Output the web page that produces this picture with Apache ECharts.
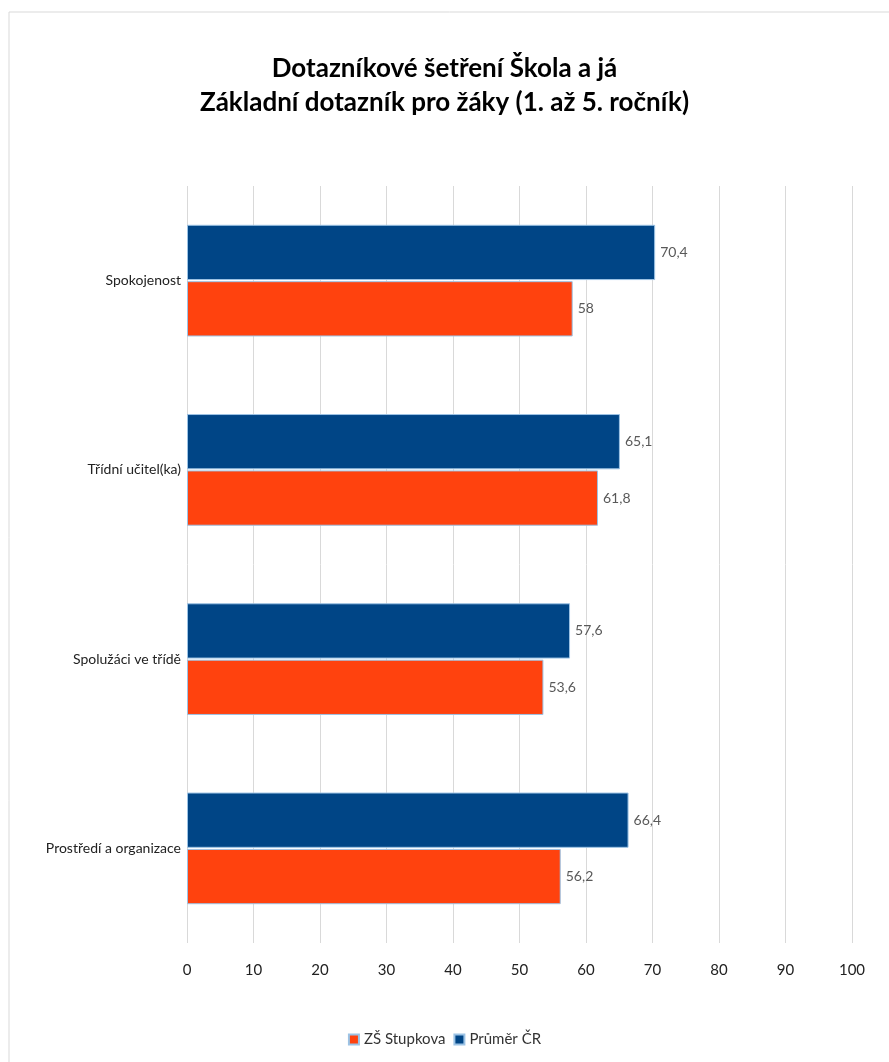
<!DOCTYPE html>
<html>
<head>
<meta charset="utf-8">
<script src="https://cdn.jsdelivr.net/npm/echarts@6/dist/echarts.min.js"></script>
<style>
  html, body { margin: 0; padding: 0; background: #fff; }
  #chart { width: 889px; height: 1062px; }
</style>
</head>
<body>
<div id="chart"></div>
<script>
const categories = ['Spokojenost', 'Třídní učitel(ka)', 'Spolužáci ve třídě', 'Prostředí a organizace']
const stupkova = [58, 61.8, 53.6, 56.2]
const prumerCR = [70.4, 65.1, 57.6, 66.4]
const seriesNames = ['ZŠ Stupkova', 'Průměr ČR']

const fmt = p => String(p.value).replace('.', ',')

let myChart = echarts.init(document.getElementById('chart'))
myChart.setOption({
  animation: false,
  textStyle: { fontFamily: 'Lato' },
  title: {
    text: 'Dotazníkové šetření Škola a já\nZákladní dotazník pro žáky (1. až 5. ročník)',
    left: 'center',
    top: 47,
    textStyle: {
      fontFamily: 'Lato',
      fontSize: 26,
      fontWeight: 'bold',
      color: '#000',
      lineHeight: 34
    }
  },
  graphic: [{
    type: 'rect',
    shape: { x: 9, y: 12, width: 900, height: 1100 },
    style: { fill: 'none', stroke: '#d9d9d9', lineWidth: 1 },
    silent: true
  }],
  legend: {
    bottom: 10,
    left: 'center',
    itemWidth: 10,
    itemHeight: 10,
    itemGap: 8,
    icon: 'rect',
    data: seriesNames,
    textStyle: { fontSize: 15, color: '#333', fontFamily: 'Lato' }
  },
  grid: {
    left: 187,
    right: 37,
    top: 186,
    bottom: 119
  },
  xAxis: {
    type: 'value',
    min: 0,
    max: 100,
    interval: 10,
    axisLine: { show: false },
    axisTick: { show: false },
    splitLine: { lineStyle: { color: '#d9d9d9' } },
    axisLabel: { fontSize: 15, color: '#222', margin: 20 }
  },
  yAxis: {
    type: 'category',
    data: categories,
    inverse: true,
    axisLine: { show: false },
    axisTick: { show: false },
    axisLabel: { fontSize: 14, color: '#222', margin: 6 }
  },
  series: [
    {
      name: seriesNames[1],
      type: 'bar',
      data: prumerCR,
      barGap: '2%',
      barCategoryGap: '41%',
      itemStyle: { color: '#004586', borderColor: '#9cc3e5', borderWidth: 1 },
      label: { show: true, position: 'right', fontSize: 14, color: '#595959', formatter: fmt }
    },
    {
      name: seriesNames[0],
      type: 'bar',
      data: stupkova,
      barGap: '2%',
      barCategoryGap: '41%',
      itemStyle: { color: '#ff420e', borderColor: '#9cc3e5', borderWidth: 1 },
      label: { show: true, position: 'right', fontSize: 14, color: '#595959', formatter: fmt }
    }
  ]
})
</script>
</body>
</html>
